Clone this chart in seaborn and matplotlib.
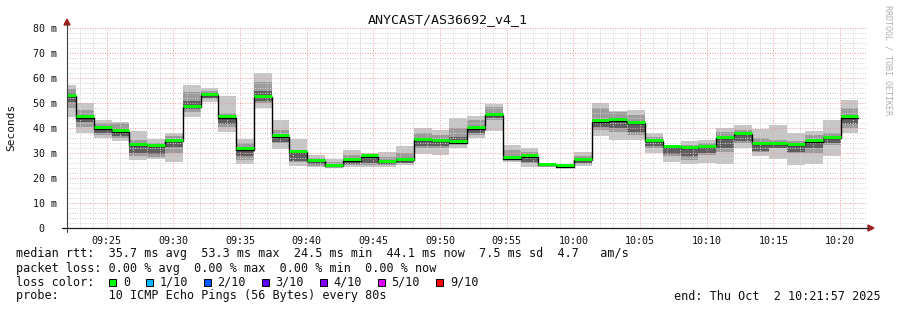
import numpy as np
import pandas as pd
import matplotlib
matplotlib.use("Agg")
import matplotlib.pyplot as plt
import matplotlib.dates as mdates
from matplotlib.ticker import MultipleLocator, FuncFormatter
from matplotlib.patches import Rectangle, Polygon
from matplotlib.lines import Line2D
import seaborn as sns

# ---------------- data (ms) ----------------
first_bin_end = "2025-10-02 09:22:42"
step_seconds = 80
median_ms = [52.8, 44.1, 39.7, 38.5, 33.1, 32.7, 34.7, 48.3, 53.2, 44.1,
             31.3, 52.3, 36.5, 30.3, 26.8, 24.8, 26.9, 28.5, 26.3, 27.2,
             35.1, 34.8, 34.1, 39.7, 45.2, 27.7, 28.5, 25.1, 24.5, 27.2,
             42.5, 42.9, 41.9, 34.8, 32.4, 31.9, 32.3, 35.9, 37.5, 33.6,
             33.5, 33.2, 34.5, 35.9, 44.1]
min_ms = [44.3, 37.9, 36.1, 34.8, 27.2, 27.6, 26.4, 44.5, 50.5, 38.5,
          25.6, 47.9, 31.6, 24.9, 24.5, 24.1, 24.5, 24.5, 24.5, 25.2,
          29.5, 29.2, 32.1, 35.9, 38.9, 26.3, 24.5, 24.5, 24.1, 24.9,
          36.8, 35.2, 35.2, 30.1, 26.5, 25.6, 25.9, 25.6, 32.1, 28.9,
          27.5, 25.2, 25.6, 28.9, 37.9]
max_ms = [57.2, 50.1, 43.2, 42.5, 38.9, 35.6, 37.9, 57.2, 55.9, 52.8,
          35.6, 62.1, 43.2, 35.6, 29.2, 27.5, 31.2, 29.9, 30.3, 32.9,
          40.1, 39.2, 43.9, 44.9, 49.6, 33.2, 31.9, 25.5, 25.2, 30.3,
          50.1, 46.8, 47.2, 37.9, 33.2, 34.8, 35.2, 40.1, 41.2, 39.6,
          41.2, 37.9, 38.8, 43.2, 51.2]
mid_lo_ms = [48.0, 40.5, 37.2, 36.0, 28.9, 28.5, 29.9, 46.5, 51.5, 40.5,
             27.2, 49.9, 33.9, 26.5, 25.0, 24.5, 25.2, 25.2, 25.2, 25.9,
             31.9, 31.9, 33.9, 37.2, 43.2, 27.2, 25.9, 24.7, 24.3, 25.5,
             39.2, 38.5, 37.2, 31.9, 28.7, 27.2, 29.2, 30.5, 33.9, 30.3,
             31.9, 29.9, 29.9, 33.2, 39.9]
mid_hi_ms = [55.5, 47.2, 41.9, 42.0, 35.2, 33.9, 36.9, 54.5, 55.0, 45.9,
             33.9, 58.5, 39.2, 31.2, 28.0, 26.5, 29.1, 28.5, 28.5, 29.9,
             37.9, 37.1, 39.9, 43.2, 48.5, 31.2, 30.3, 25.3, 25.0, 28.9,
             47.9, 46.5, 45.2, 36.5, 32.3, 33.2, 33.9, 38.5, 39.2, 35.9,
             35.2, 34.7, 37.2, 37.9, 47.9]
core_lo_ms = [50.5, 42.5, 38.0, 37.0, 30.0, 29.5, 32.5, 47.5, 52.0, 41.5,
              29.0, 51.0, 34.5, 27.0, 25.5, 24.5, 25.5, 26.0, 25.5, 26.0,
              33.0, 33.0, 34.0, 38.0, 44.0, 27.5, 26.5, 24.8, 24.4, 26.0,
              40.5, 40.0, 38.5, 33.0, 29.5, 29.0, 30.0, 32.0, 35.0, 31.0,
              32.0, 30.5, 32.0, 34.0, 41.5]
core_hi_ms = [54.0, 45.0, 40.5, 39.5, 33.5, 33.0, 35.5, 51.0, 54.0, 44.5,
              32.0, 55.0, 37.5, 30.5, 27.0, 25.5, 27.5, 28.5, 27.0, 28.0,
              35.5, 35.5, 36.5, 40.5, 46.0, 29.0, 29.0, 25.2, 24.8, 27.5,
              43.0, 43.5, 42.5, 35.0, 32.5, 32.0, 32.5, 36.0, 37.5, 34.0,
              34.0, 33.5, 35.0, 36.5, 44.5]

title = "ANYCAST/AS36692_v4_1"
line_median = "median rtt:  35.7 ms avg  53.3 ms max  24.5 ms min  44.1 ms now  7.5 ms sd  4.7   am/s"
line_loss = "packet loss: 0.00 % avg  0.00 % max  0.00 % min  0.00 % now"
loss_labels = ["0", "1/10", "2/10", "3/10", "4/10", "5/10", "9/10"]
loss_colors = ["#00ff00", "#00b8ff", "#0059ff", "#5e00ff", "#7e00ff", "#dd00ff", "#ff0000"]
line_probe = "probe:       10 ICMP Echo Pings (56 Bytes) every 80s"
end_text = "end: Thu Oct  2 10:21:57 2025"
x_start = "2025-10-02 09:22:01"
x_end = "2025-10-02 10:22:01"

# ---------------- build ----------------
n = len(median_ms)
ends = pd.Timestamp(first_bin_end) + pd.to_timedelta(np.arange(n) * step_seconds, unit="s")
starts = ends - pd.Timedelta(seconds=step_seconds)
xs = mdates.date2num(starts.to_pydatetime())
xe = mdates.date2num(ends.to_pydatetime())
width = step_seconds / 86400.0

df = pd.DataFrame({"start": xs, "end": xe, "median": median_ms,
                   "min": min_ms, "max": max_ms,
                   "mlo": mid_lo_ms, "mhi": mid_hi_ms,
                   "clo": core_lo_ms, "chi": core_hi_ms})

sns.set_theme(style="white")
plt.rcParams["font.family"] = ["DejaVu Sans Mono", "DejaVu Sans"]

W, H = 897, 310
fig = plt.figure(figsize=(W / 100, H / 100), dpi=100)
fig.patch.set_facecolor("white")
ax = fig.add_axes([67 / W, (H - 228) / H, 800 / W, 200 / H])
ax.set_facecolor("white")

# smoke
ax.bar(df["start"], df["max"] - df["min"], bottom=df["min"], width=width,
       align="edge", color="#c6c6c6", linewidth=0, zorder=1)
ax.bar(df["start"], df["mhi"] - df["mlo"], bottom=df["mlo"], width=width,
       align="edge", color="#9c9c9c", linewidth=0, zorder=1.1)
ax.bar(df["start"], df["chi"] - df["clo"], bottom=df["clo"], width=width,
       align="edge", color="#5e5e5e", linewidth=0, zorder=1.2)

# median step line
step_df = pd.concat([df[["start", "median"]].rename(columns={"start": "t"}),
                     pd.DataFrame({"t": [df["end"].iloc[-1]], "median": [df["median"].iloc[-1]]})],
                    ignore_index=True)
sns.lineplot(data=step_df, x="t", y="median", drawstyle="steps-post",
             color="black", linewidth=1.0, ax=ax, zorder=3, estimator=None, sort=False)
ax.hlines(df["median"] + 0.55, df["start"], df["end"], color="#00ff00",
          linewidth=2.1, zorder=4)

# axes limits / ticks
ax.set_xlim(mdates.date2num(pd.Timestamp(x_start).to_pydatetime()),
            mdates.date2num(pd.Timestamp(x_end).to_pydatetime()))
ax.set_ylim(0, 80)
ax.xaxis.set_major_locator(mdates.MinuteLocator(byminute=range(0, 60, 5)))
ax.xaxis.set_minor_locator(mdates.MinuteLocator())
ax.xaxis.set_major_formatter(mdates.DateFormatter("%H:%M"))
ax.yaxis.set_major_locator(MultipleLocator(10))
ax.yaxis.set_minor_locator(MultipleLocator(2))
ax.yaxis.set_major_formatter(FuncFormatter(lambda v, p: f"{int(round(v))} m" if v > 0 else "0  "))
ax.set_xlabel("")
ax.set_ylabel("")

ax.set_axisbelow(False)
dot = (0, (1, 1.5))
ax.grid(which="minor", axis="both", color="#cfcfcf", linestyle=dot, linewidth=0.72)
ax.grid(which="major", axis="both", color="#f0a0a0", linestyle=dot, linewidth=0.72)
for gl in ax.get_xgridlines() + ax.get_ygridlines():
    gl.set_zorder(2)

ax.tick_params(axis="x", which="major", length=2, width=0.7, color="#202020",
               labelsize=7.2, pad=4, labelcolor="#101010", direction="out")
ax.tick_params(axis="y", which="major", length=4, width=0.7, color="#202020",
               labelsize=7.2, pad=3.5, labelcolor="#101010", direction="out")
ax.tick_params(which="minor", length=0)
for lab in ax.get_xticklabels() + ax.get_yticklabels():
    lab.set_family("DejaVu Sans Mono")

for s in ["top", "right", "left", "bottom"]:
    ax.spines[s].set_visible(False)

def fx(px):
    return px / W

def fy(py):
    return 1 - py / H

axis_col = "#1a1a1a"
fig.add_artist(Line2D([fx(62), fx(868)], [fy(228), fy(228)], color=axis_col, lw=0.9, transform=fig.transFigure))
fig.add_artist(Line2D([fx(67), fx(67)], [fy(232), fy(24)], color="#404040", lw=0.8, transform=fig.transFigure))
arrow_col = "#a02020"
fig.add_artist(Polygon([(fx(868), fy(225)), (fx(874), fy(228)), (fx(868), fy(231))],
                       closed=True, color=arrow_col, transform=fig.transFigure))
fig.add_artist(Polygon([(fx(64), fy(25)), (fx(67), fy(19)), (fx(70), fy(25))],
                       closed=True, color=arrow_col, transform=fig.transFigure))

# texts
fig.text(fx(448), fy(19.5), title, ha="center", va="center", fontsize=9.6,
         family="DejaVu Sans Mono", color="#101010")
fig.text(fx(11), fy(127), "Seconds", ha="center", va="center", rotation=90,
         fontsize=8.0, family="DejaVu Sans Mono", color="#101010")
fig.text(fx(888), fy(60), "RRDTOOL / TOBI OETIKER", ha="center", va="center", rotation=-90,
         fontsize=6.0, family="DejaVu Sans Mono", color="#b0b0b0")

fs = 8.5
fig.text(fx(16), fy(254), line_median, ha="left", va="center", fontsize=fs,
         family="DejaVu Sans Mono", color="#101010")
fig.text(fx(16), fy(268.3), line_loss, ha="left", va="center", fontsize=fs,
         family="DejaVu Sans Mono", color="#101010")
fig.text(fx(16), fy(282.3), "loss color:", ha="left", va="center", fontsize=fs,
         family="DejaVu Sans Mono", color="#101010")
box_x = [109, 146, 203.5, 261.5, 319.5, 377.5, 436]
for bx, lab, col in zip(box_x, loss_labels, loss_colors):
    fig.add_artist(Rectangle((fx(bx), fy(286)), 7 / W, 7 / H, facecolor=col,
                             edgecolor="black", linewidth=0.7, transform=fig.transFigure))
    fig.text(fx(bx + 14), fy(282.3), lab, ha="left", va="center", fontsize=fs,
             family="DejaVu Sans Mono", color="#101010")
fig.text(fx(16), fy(296), line_probe, ha="left", va="center", fontsize=fs,
         family="DejaVu Sans Mono", color="#101010")
fig.text(fx(881), fy(296), end_text, ha="right", va="center", fontsize=fs,
         family="DejaVu Sans Mono", color="#101010")

fig.savefig("out.png", dpi=100, facecolor="white")
